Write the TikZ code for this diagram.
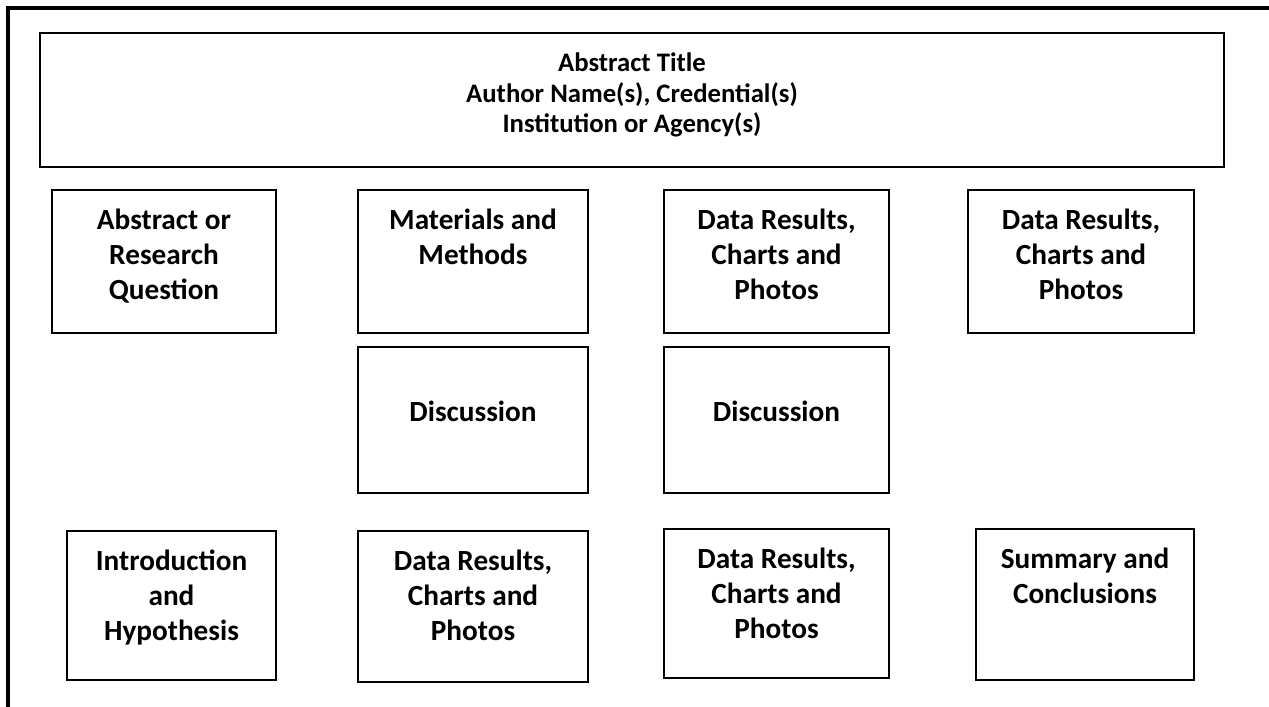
\documentclass[tikz,border=0pt]{standalone}
\usepackage{fontspec}
\setmainfont{Carlito}
\usetikzlibrary{fit,positioning}
\tikzset{%
  panel/.style     = {shape=rectangle, draw, line width=1.4pt, inner sep=0pt},%
  paneltext/.style = {align=center, inner sep=0pt,%
                      font=\bfseries\fontsize{20.8pt}{25.2pt}\selectfont},%
  titletext/.style = {paneltext, font=\bfseries\fontsize{19pt}{21.7pt}\selectfont}%
}

\begin{document}
\begin{tikzpicture}[x=0.025cm,y=-0.025cm]
	\fill [white] (0,0) rectangle (1269,707);
	\useasboundingbox (0,0) rectangle (1269,707);
	\draw [line width=0.1cm] (8,707) -- (8,8) -- (1269,8);
	% header
	\node [panel, fit={(40,33) (1224,167)}] (title) {};
	\node [titletext, below=0.52cm of title.north] (titlelabel)
		{Abstract Title\\Author Name(s), Credential(s)\\Institution or Agency(s)};
	% first row
	\node [panel, fit={(52,190) (276,333)}] (abstract) {};
	\node [panel, fit={(358,190) (588,333)}] (methods) {};
	\node [panel, fit={(664,190) (889,333)}] (dataA) {};
	\node [panel, fit={(968,190) (1194,333)}] (dataB) {};
	\node [paneltext, below=0.48cm of abstract.north] (abstractlabel) {Abstract or\\Research\\Question};
	\node [paneltext, below=0.48cm of methods.north] (methodslabel) {Materials and\\Methods};
	\node [paneltext, below=0.48cm of dataA.north] (dataAlabel) {Data Results,\\Charts and\\Photos};
	\node [paneltext, below=0.48cm of dataB.north] (dataBlabel) {Data Results,\\Charts and\\Photos};
	% second row
	\node [panel, fit={(358,347) (588,493)}] (discA) {};
	\node [panel, fit={(664,347) (889,493)}] (discB) {};
	\node [paneltext, anchor=base, yshift=-0.03cm] (discAlabel) at (discA.center) {Discussion};
	\node [paneltext, anchor=base, yshift=-0.03cm] (discBlabel) at (discB.center) {Discussion};
	% third row
	\node [panel, fit={(67,531) (276,680)}] (intro) {};
	\node [panel, fit={(358,531) (588,682)}] (dataC) {};
	\node [panel, fit={(664,529) (889,678)}] (dataD) {};
	\node [panel, fit={(976,529) (1194,680)}] (summary) {};
	\node [paneltext, below=0.48cm of intro.north] (introlabel) {Introduction\\and\\Hypothesis};
	\node [paneltext, below=0.48cm of dataC.north] (dataClabel) {Data Results,\\Charts and\\Photos};
	\node [paneltext, below=0.48cm of dataD.north] (dataDlabel) {Data Results,\\Charts and\\Photos};
	\node [paneltext, below=0.48cm of summary.north] (summarylabel) {Summary and\\Conclusions};
\end{tikzpicture}
\end{document}
